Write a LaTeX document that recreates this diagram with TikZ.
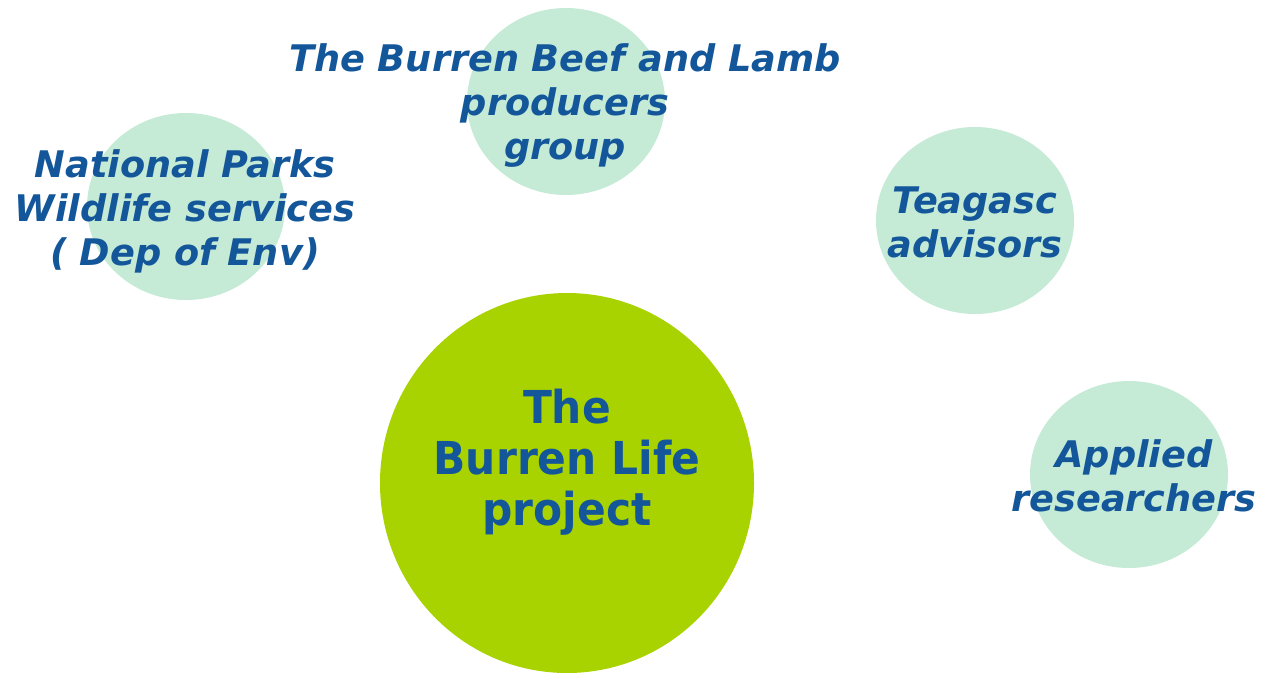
\documentclass[tikz,border=0pt]{standalone}
\usepackage{fontspec}
\setmainfont{DejaVu Sans}
\newfontfamily\hubfont[FakeStretch=0.935]{DejaVu Sans}
\usepackage[svgnames, dvipsnames]{xcolor}
\usetikzlibrary{shapes.geometric}
\definecolor{mint}{HTML}{C5EAD6}
\definecolor{lime}{HTML}{A8D300}
\definecolor{navy}{HTML}{13579A}
\tikzset{
  partner/.style={ellipse, fill=mint, minimum width=148.5pt, minimum height=140.25pt, inner sep=0pt},
  partnertext/.style={text=navy, align=center, font=\bfseries\itshape\fontsize{27.5}{33}\selectfont},
  hub/.style={ellipse, fill=lime, minimum width=280.5pt, minimum height=285pt, inner sep=0pt}
}

\begin{document}
\begin{tikzpicture}[x=0.75pt, y=-0.75pt]
\useasboundingbox (0,0) rectangle (1262,672);
\node[hub] (life) at (567,483) {};
\node[text=navy, align=center, font=\hubfont\bfseries\fontsize{34}{38}\selectfont] (lifetext) at (567,462) {The\\Burren Life\\project};
\node[partner] (npws) at (186,206.5) {};
\node[partner] (beef) at (566,101.5) {};
\node[partner] (teagasc) at (975,220.5) {};
\node[partner] (applied) at (1129,474.5) {};
\node[partnertext] (npwstext) at (185,211) {National Parks\\Wildlife services\\( Dep of Env)};
\node[partnertext] (beeftext) at (565,105.5) {The Burren Beef and Lamb\\producers\\group};
\node[partnertext] (teagasctext) at (975,222) {Teagasc\\advisors};
\node[partnertext] (appliedtext) at (1134,476) {Applied\\researchers};
\end{tikzpicture}
\end{document}
